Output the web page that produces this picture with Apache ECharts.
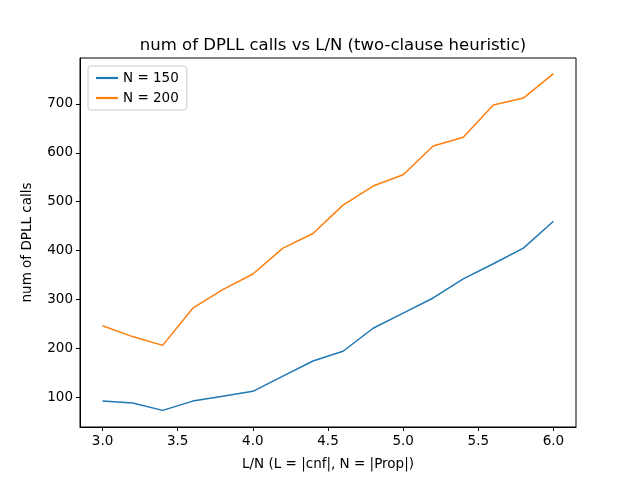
<!DOCTYPE html>
<html>
<head>
<meta charset="utf-8">
<script src="https://cdn.jsdelivr.net/npm/echarts@6/dist/echarts.min.js"></script>
<style>body{margin:0;background:#fff}#c{width:640px;height:480px}</style>
</head>
<body>
<div id="c"></div>
<script>
// L/N ratios
var ratios = [3.0, 3.2, 3.4, 3.6, 3.8, 4.0, 4.2, 4.4, 4.6, 4.8, 5.0, 5.2, 5.4, 5.6, 5.8, 6.0];
// num of DPLL calls
var calls150 = [92, 88, 73, 92, 102, 112, 143, 174, 194, 241, 272, 303, 342, 373, 405, 460];
var calls200 = [246, 224, 206, 282, 320, 352, 405, 435, 493, 532, 555, 614, 632, 698, 712, 762];
var xTicks = [3.0, 3.5, 4.0, 4.5, 5.0, 5.5, 6.0];
var yTicks = [100, 200, 300, 400, 500, 600, 700];

var font = 'DejaVu Sans';
function pairs(ys) {
    return ratios.map(function (x, i) { return [x, ys[i]]; });
}

var chart = echarts.init(document.getElementById('c'));
chart.setOption({
    animation: false,
    textStyle: {fontFamily: font},
    title: {
        text: 'num of DPLL calls vs L/N (two-clause heuristic)',
        left: 328, top: 32, textAlign: 'center',
        textStyle: {fontFamily: font, fontSize: 16.5, fontWeight: 'normal', color: '#000'}
    },
    legend: {
        left: 88, top: 66, orient: 'vertical',
        backgroundColor: '#fff', borderColor: '#ccc', borderWidth: 1, borderRadius: 3,
        padding: [5, 8, 5, 8], itemGap: 6, itemWidth: 22, itemHeight: 10,
        textStyle: {fontFamily: font, fontSize: 13.5, color: '#000'},
        data: [{name: 'N = 150', icon: 'path://M0,0H10V1H0Z'}, {name: 'N = 200', icon: 'path://M0,0H10V1H0Z'}]
    },
    grid: {left: 80, right: 64, top: 58, bottom: 53},
    xAxis: {
        type: 'value', min: 2.85, max: 6.15,
        name: 'L/N (L = |cnf|, N = |Prop|)', nameLocation: 'middle', nameGap: 30,
        nameTextStyle: {fontFamily: font, fontSize: 13.5, color: '#000'},
        axisLine: {onZero: false, lineStyle: {color: '#000'}},
        axisTick: {customValues: xTicks, length: 4, inside: false, lineStyle: {color: '#000'}},
        axisLabel: {customValues: xTicks, color: '#000', fontSize: 13.5, margin: 7,
            formatter: function (v) { return v.toFixed(1); }},
        splitLine: {show: false}
    },
    yAxis: {
        type: 'value', min: 39, max: 794,
        name: 'num of DPLL calls', nameLocation: 'middle', nameGap: 46,
        nameTextStyle: {fontFamily: font, fontSize: 13.5, color: '#000'},
        axisLine: {show: true, onZero: false, lineStyle: {color: '#000'}},
        axisTick: {show: true, customValues: yTicks, length: 4, lineStyle: {color: '#000'}},
        axisLabel: {customValues: yTicks, color: '#000', fontSize: 13.5, margin: 7},
        splitLine: {show: false}
    },
    series: [
        {name: 'N = 150', type: 'line', data: pairs(calls150), showSymbol: false,
            color: '#1f77b4', lineStyle: {width: 1.5}},
        {name: 'N = 200', type: 'line', data: pairs(calls200), showSymbol: false,
            color: '#ff7f0e', lineStyle: {width: 1.5}}
    ]
});
// right and top spines
chart.setOption({
    graphic: [{type: 'rect', shape: {x: 80, y: 58, width: 496, height: 369},
        style: {fill: null, stroke: '#000', lineWidth: 1}, silent: true}]
});
</script>
</body>
</html>
